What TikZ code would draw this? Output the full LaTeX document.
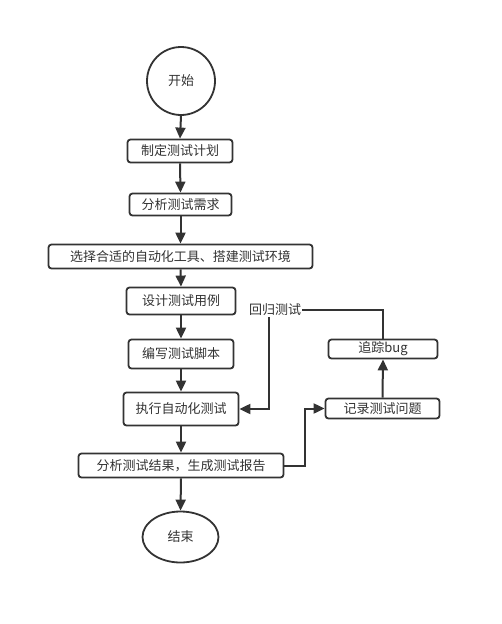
\documentclass[tikz,border=0pt]{standalone}
\usepackage{fontspec}
\setmainfont{Noto Sans CJK SC}
\usetikzlibrary{arrows.meta,shapes.geometric}
\definecolor{ink}{HTML}{333333}
\begin{document}
\begin{tikzpicture}[x=1pt,y=-1pt,
  every node/.style={font=\fontsize{13}{15}\selectfont, text=ink},
  box/.style={draw=ink, line width=1.8pt, rounded corners=3pt, rectangle, inner sep=0pt},
  flow/.style={draw=ink, line width=2pt, -{Triangle[length=11pt,width=10pt]}},
  plain/.style={draw=ink, line width=2pt}]
\fill[white] (0,0) rectangle (501,624);
\useasboundingbox (0,0) rectangle (501,624);
\node[draw=ink, line width=1.8pt, circle, minimum size=68pt, inner sep=0pt] (start) at (181,81) {开始};
\node[box, minimum width=105pt, minimum height=23pt] (b1) at (180,151) {制定测试计划};
\node[box, minimum width=102pt, minimum height=22pt] (b2) at (180.5,204.5) {分析测试需求};
\node[box, minimum width=264pt, minimum height=24pt] (b3) at (180.5,256.5) {选择合适的自动化工具、搭建测试环境};
\node[box, minimum width=109pt, minimum height=27pt] (b4) at (181,301) {设计测试用例};
\node[box, minimum width=105pt, minimum height=29pt] (b5) at (181,354) {编写测试脚本};
\node[box, minimum width=115pt, minimum height=33pt] (b6) at (181,409) {执行自动化测试};
\node[box, minimum width=205pt, minimum height=24pt] (b7) at (181,465.5) {分析测试结果，生成测试报告};
\node[draw=ink, line width=1.8pt, ellipse, minimum width=76pt, minimum height=51pt, inner sep=0pt] (end) at (180.5,537) {结束};
\node[box, minimum width=114pt, minimum height=20pt] (rec) at (382.5,408.5) {记录测试问题};
\node[box, minimum width=109pt, minimum height=19pt] (trk) at (383,349) {追踪bug};
\node[inner sep=1pt] (reg) at (275,310) {回归测试};
\draw[flow] (start.south) -- (b1.north);
\draw[flow] (b1.south) -- (b2.north);
\draw[flow] (b2.south) -- (b3.north);
\draw[flow] (b3.south) -- (b4.north);
\draw[flow] (b4.south) -- (b5.north);
\draw[flow] (b5.south) -- (b6.north);
\draw[flow] (b6.south) -- (b7.north);
\draw[flow] (b7.south) -- (end.north);
\draw[flow] (b7.east) -- ([xshift=21pt]b7.east) |- (rec.west);
\draw[flow] (rec.north) -- (trk.south);
\draw[plain] (trk.north) |- (reg.east);
\draw[flow] ([xshift=-6pt]reg.south) |- (b6.east);
\end{tikzpicture}
\end{document}
